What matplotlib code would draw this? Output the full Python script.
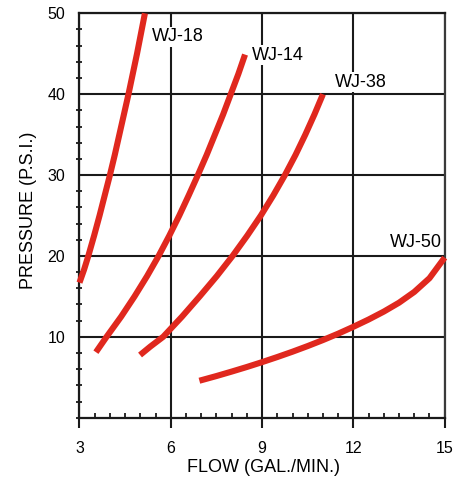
import matplotlib
matplotlib.use("Agg")
import matplotlib.pyplot as plt
from matplotlib.ticker import MultipleLocator

plt.rcParams['font.family'] = ['Liberation Sans', 'DejaVu Sans']

# pump curves: flow (gal/min) vs pressure (psi)
wj18_flow = [3.0, 3.15, 3.29, 3.48, 3.66, 3.83, 4.00, 4.16, 4.31, 4.46,
             4.61, 4.75, 4.89, 5.02, 5.15]
wj18_psi = [16.7, 18.3, 20.0, 22.5, 25.0, 27.5, 30.0, 32.5, 35.0, 37.5,
            40.0, 42.5, 45.0, 47.5, 50.0]

wj14_flow = [3.54, 3.89, 4.37, 4.81, 5.22, 5.60, 5.95, 6.28, 6.59, 6.89,
             7.18, 7.45, 7.72, 7.97, 8.22, 8.44]
wj14_psi = [8.1, 10.0, 12.5, 15.0, 17.5, 20.0, 22.5, 25.0, 27.5, 30.0,
            32.5, 35.0, 37.5, 40.0, 42.5, 44.9]

wj38_flow = [4.99, 5.33, 5.75, 6.37, 6.95, 7.51, 8.03, 8.51, 8.96, 9.37,
             9.75, 10.10, 10.42, 10.72, 11.0]
wj38_psi = [7.75, 8.8, 10.0, 12.5, 15.0, 17.5, 20.0, 22.5, 25.0, 27.5,
            30.0, 32.5, 35.0, 37.5, 40.0]

wj50_flow = [6.94, 7.5, 8.0, 8.5, 9.0, 9.5, 10.0, 10.5, 11.0, 11.5, 12.0,
             12.5, 13.0, 13.5, 14.0, 14.5, 15.0]
wj50_psi = [4.57, 5.15, 5.70, 6.27, 6.87, 7.50, 8.16, 8.86, 9.60, 10.39,
            11.24, 12.14, 13.12, 14.22, 15.55, 17.25, 19.8]

# label text and where it sits (data coords)
labels = [
    ("WJ-18", 5.38, 47.1, 'left'),
    ("WJ-14", 8.66, 44.8, 'left'),
    ("WJ-38", 11.40, 41.5, 'left'),
    ("WJ-50", 14.91, 21.7, 'right'),
]

x_ticks = [3, 6, 9, 12, 15]
y_ticks = [10, 20, 30, 40, 50]

red = '#e0281e'

fig = plt.figure(figsize=(4.64, 4.79), dpi=100)
ax = fig.add_axes([0.1713, 0.128, 0.7871, 0.8442])

ax.set_xlim(3, 15)
ax.set_ylim(0, 50)
ax.set_xticks(x_ticks)
ax.set_yticks(y_ticks)
ax.xaxis.set_minor_locator(MultipleLocator(0.5))
ax.yaxis.set_minor_locator(MultipleLocator(2))

ax.grid(True, which='major', color='#1a1a1a', linewidth=1.5, zorder=1)
ax.set_axisbelow(True)

for s in ax.spines.values():
    s.set_linewidth(1.6)
    s.set_color('#1a1a1a')
ax.spines['right'].set_color('#3a3a3a')

ax.tick_params(axis='x', which='major', direction='out', length=7.5,
               width=1.5, pad=9, labelsize=11.5, color='#1a1a1a')
ax.tick_params(axis='x', which='minor', direction='in', length=3.5,
               width=1.3, color='#1a1a1a')
ax.tick_params(axis='y', which='major', length=0, pad=10.4, labelsize=11.5)
ax.tick_params(axis='y', which='minor', direction='inout', length=4.5,
               width=1.3, color='#1a1a1a')

for fx, fy in [(wj18_flow, wj18_psi), (wj14_flow, wj14_psi),
               (wj38_flow, wj38_psi), (wj50_flow, wj50_psi)]:
    ax.plot(fx, fy, color=red, linewidth=4.4, solid_capstyle='butt',
            solid_joinstyle='round', zorder=3, clip_on=False)

for text, lx, ly, ha in labels:
    ax.text(lx, ly, text, ha=ha, va='center', fontsize=13, zorder=2,
            bbox=dict(facecolor='white', edgecolor='none', pad=1))

ax.set_xlabel("FLOW (GAL./MIN.)", fontsize=13)
ax.set_ylabel("PRESSURE (P.S.I.)", fontsize=13)
ax.xaxis.set_label_coords(0.505, -0.102)
ax.yaxis.set_label_coords(-0.116, 0.514)

fig.savefig("out.png", dpi=100)
